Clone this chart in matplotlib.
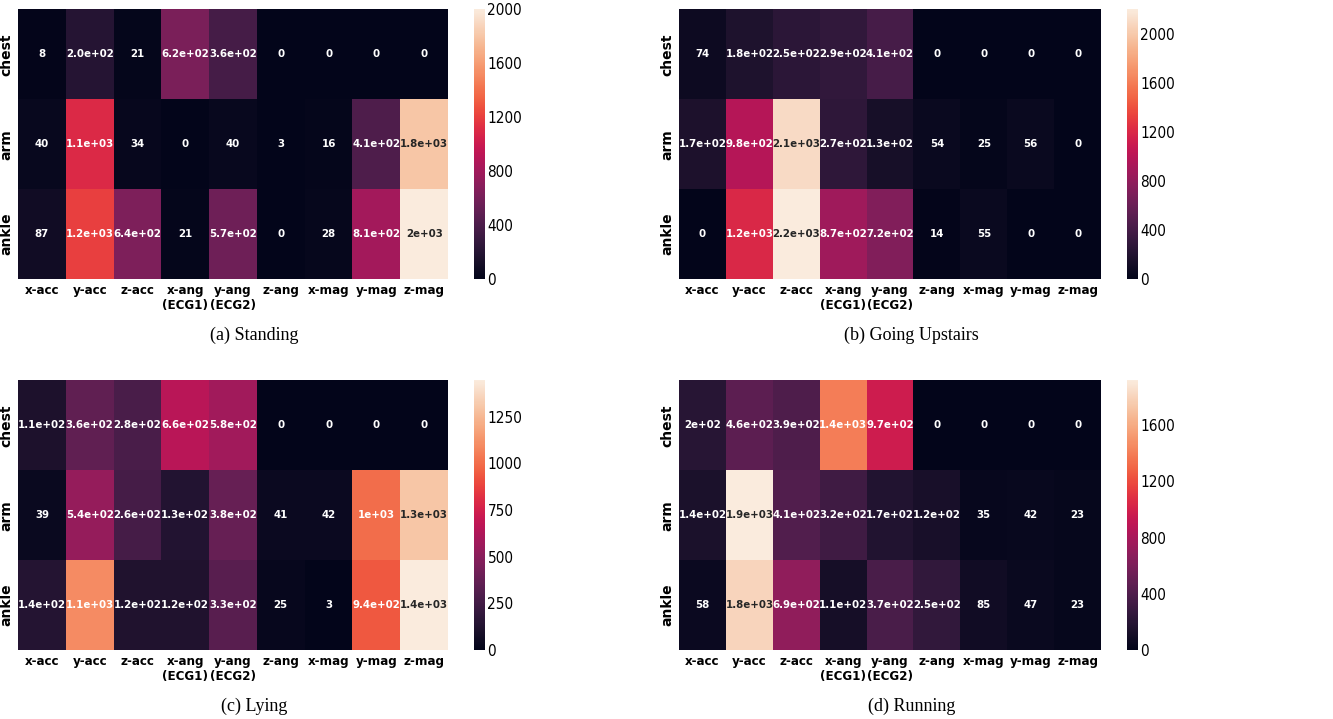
import matplotlib
matplotlib.use('Agg')
import matplotlib.pyplot as plt
from matplotlib import font_manager
import numpy as np
import seaborn as sns

rows = ['chest', 'arm', 'ankle']
cols = ['x-acc', 'y-acc', 'z-acc', 'x-ang\n(ECG1)', 'y-ang\n(ECG2)',
        'z-ang', 'x-mag', 'y-mag', 'z-mag']

# values (rows: chest, arm, ankle)
standing = [[8, 200, 21, 620, 360, 0, 0, 0, 0],
            [40, 1100, 34, 0, 40, 3, 16, 410, 1800],
            [87, 1200, 640, 21, 570, 0, 28, 810, 2000]]
upstairs = [[74, 180, 250, 290, 410, 0, 0, 0, 0],
            [170, 980, 2100, 270, 130, 54, 25, 56, 0],
            [0, 1200, 2200, 870, 720, 14, 55, 0, 0]]
lying = [[110, 360, 280, 660, 580, 0, 0, 0, 0],
         [39, 540, 260, 130, 380, 41, 42, 1000, 1300],
         [140, 1100, 120, 120, 330, 25, 3, 940, 1445]]
running = [[200, 460, 390, 1400, 970, 0, 0, 0, 0],
           [140, 1920, 410, 320, 170, 120, 35, 42, 23],
           [58, 1800, 690, 110, 370, 250, 85, 47, 23]]

captions = ['(a) Standing', '(b) Going Upstairs', '(c) Lying', '(d) Running']
cbar_ticks = [[0, 400, 800, 1200, 1600, 2000],
              [0, 400, 800, 1200, 1600, 2000],
              [0, 250, 500, 750, 1000, 1250],
              [0, 400, 800, 1200, 1600]]

# the original text looks squeezed sideways; use condensed DejaVu if it is there
fp = font_manager.FontProperties(family='DejaVu Sans', stretch='condensed', weight='bold')
condensed = 'Condensed' in font_manager.findfont(fp, fallback_to_default=True)
stretch = 'condensed' if condensed else 'normal'
annot_size = 8.2 if condensed else 7.3
tick_size = 9.5 if condensed else 8.5
cb_size = 11 if condensed else 9.5

fig = plt.figure(figsize=(13.33, 7.19), dpi=100)

lefts = [0.0135, 0.5094]
widths = [0.3226, 0.3166]
cb_lefts = [0.3556, 0.8455]
bottoms = [0.612, 0.096]
cap_x = [0.191, 0.684]
cap_y = [0.534, 0.017]

datasets = [standing, upstairs, lying, running]
for i, data in enumerate(datasets):
    r, c = divmod(i, 2)
    vals = np.array(data, dtype=float)
    labels = [[format(v, '.2g') for v in row] for row in data]
    if i == 0:
        labels[0][1] = '2.0e+02'  # printed this way in the original
    ax = fig.add_axes([lefts[c], bottoms[r], widths[c], 0.375])
    cax = fig.add_axes([cb_lefts[c], bottoms[r], 0.008, 0.375])
    sns.heatmap(vals, ax=ax, cbar_ax=cax, cmap='rocket', annot=np.array(labels),
                fmt='', annot_kws={'fontsize': annot_size, 'fontweight': 'bold',
                                   'fontstretch': stretch},
                xticklabels=cols, yticklabels=rows)
    ax.tick_params(length=0)
    ax.set_xticklabels(cols, fontsize=tick_size, fontweight='bold', rotation=0,
                       fontstretch=stretch)
    ax.set_yticklabels(rows, fontsize=tick_size + 0.5, fontweight='bold', rotation=90,
                       va='center')
    cax.set_yticks(cbar_ticks[i])
    cax.tick_params(length=0, pad=2)
    for t in cax.get_yticklabels():
        t.set_fontsize(cb_size)
        t.set_fontstretch(stretch)
    fig.text(cap_x[c], cap_y[r], captions[i], ha='center', va='center',
             fontsize=13, family='Liberation Serif')

plt.savefig('out.png', dpi=100)
